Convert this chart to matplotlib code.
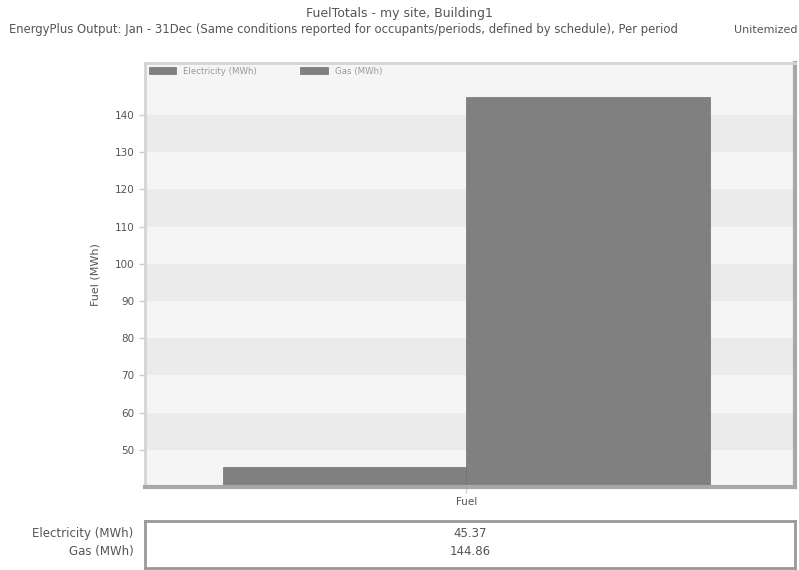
import matplotlib.pyplot as plt

title = "FuelTotals - my site, Building1"
subtitle = ("EnergyPlus Output: Jan - 31Dec (Same conditions reported for occupants/periods, "
            "defined by schedule), Per period")
subtitle_right = "Unitemized"
category = ["Fuel"]
series = ["Electricity (MWh)", "Gas (MWh)"]
values = [45.37, 144.86]
value_labels = ["45.37", "144.86"]
yticks = [50, 60, 70, 80, 90, 100, 110, 120, 130, 140]

TXT = "#555555"
BAR = "#808080"

fig = plt.figure(figsize=(7.99, 5.70), dpi=100)
fig.text(0.5, 1 - 13 / 570, title, ha="center", va="center", fontsize=9, color=TXT)
fig.text(9 / 799, 1 - 30 / 570, subtitle, ha="left", va="center", fontsize=8.4, color=TXT)
fig.text(734 / 799, 1 - 30 / 570, subtitle_right, ha="left", va="center", fontsize=8, color=TXT)

# main plot area
ax = fig.add_axes([145 / 799, 1 - 487 / 570, 650 / 799, 424 / 570])
ax.set_facecolor("#f5f5f5")
ymin, ymax = 40, 154
ax.set_ylim(ymin, ymax)
ax.set_xlim(-1.32, 1.35)

# alternating bands between ticks
for t in range(50, 150, 20):
    ax.axhspan(t, t + 10, color="#ebebeb", lw=0, zorder=0)

offsets = [-0.5, 0.5]
for off, v, s in zip(offsets, values, series):
    ax.bar(off, v - ymin, width=1.0, bottom=ymin, color=BAR, edgecolor="#707070",
           lw=0.5, label=s, zorder=2)

ax.set_yticks(yticks)
ax.set_yticklabels([str(t) for t in yticks], fontsize=7.5, color=TXT)
ax.set_xticks([0])
ax.set_xticklabels(category, fontsize=7.5, color=TXT)
ax.tick_params(axis="both", length=4, color="#cccccc", width=1)
ax.set_ylabel("Fuel (MWh)", fontsize=8, color=TXT, labelpad=10)
for side in ["left", "top"]:
    ax.spines[side].set_color("#d4d4d4")
    ax.spines[side].set_linewidth(2)
for side in ["right", "bottom"]:
    ax.spines[side].set_color("#a8a8a8")
    ax.spines[side].set_linewidth(3)

leg = ax.legend(loc="upper left", ncol=2, frameon=False, fontsize=6.2,
                handlelength=3.2, handleheight=0.9, columnspacing=5,
                handletextpad=0.8, borderaxespad=0.15, borderpad=0.3,
                bbox_to_anchor=(0.0, 1.0))
for t in leg.get_texts():
    t.set_color("#999999")

# data table below
tax = fig.add_axes([145 / 799, 1 - 568 / 570, 650 / 799, 47 / 570])
tax.set_xlim(0, 1)
tax.set_ylim(0, 1)
tax.set_xticks([])
tax.set_yticks([])
for side in tax.spines.values():
    side.set_color("#999999")
    side.set_linewidth(2)
row_y = [0.74, 0.36]
for y, s, lab in zip(row_y, series, value_labels):
    tax.text(0.5, y, lab, ha="center", va="center", fontsize=8.5, color=TXT)
    tax.text(-0.018, y, s, ha="right", va="center", fontsize=8.5, color=TXT,
             transform=tax.transAxes)

fig.savefig("out.png", dpi=100)
